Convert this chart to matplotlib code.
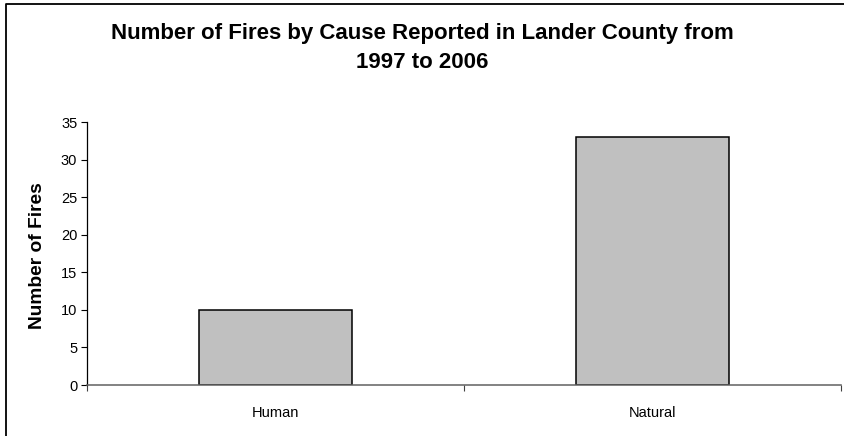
import matplotlib.pyplot as plt
from matplotlib.lines import Line2D

plt.rcParams['font.family'] = ['Liberation Sans', 'DejaVu Sans']

causes = ['Human', 'Natural']
fires = [10, 33]
yticks = [0, 5, 10, 15, 20, 25, 30, 35]

W, H = 844, 436
fig = plt.figure(figsize=(W / 100, H / 100), dpi=100)

# chart area border (only top and left visible in the crop)
fig.add_artist(Line2D([5.5 / W, 5.5 / W, 1.01], [0, 1 - 4.5 / H, 1 - 4.5 / H],
                      transform=fig.transFigure, color='black', lw=1.3))

ax = fig.add_axes([87 / W, (H - 385) / H, (841 - 87) / W, (385 - 122) / H])

x = range(len(causes))
ax.bar(x, fires, width=0.405, color='#c0c0c0', edgecolor='black', linewidth=1.1)

ax.set_xlim(-0.5, len(causes) - 0.5)
ax.set_ylim(0, 35)
ax.set_yticks(yticks)
ax.tick_params(axis='y', direction='out', length=4, width=0.8, labelsize=10.5, pad=3, color='black')

# ticks between categories, labels at category centres
ax.set_xticks([-0.5, 0.5, 1.5])
ax.set_xticklabels([])
ax.set_xticks(list(x), minor=True)
ax.set_xticklabels(causes, minor=True, fontsize=10.5)
ax.tick_params(axis='x', which='major', direction='out', length=4, width=0.8, color='#404040')
ax.tick_params(axis='x', which='minor', length=0, pad=15)

for s in ['top', 'right']:
    ax.spines[s].set_visible(False)
ax.spines['left'].set_color('black')
ax.spines['left'].set_linewidth(0.9)
ax.spines['bottom'].set_color('#606060')
ax.spines['bottom'].set_linewidth(1.1)

fig.text(38 / W, 1 - 256 / H, 'Number of Fires', rotation=90, ha='center', va='center',
         fontsize=13.8, fontweight='bold')

fig.text(0.5, 1 - 48 / H,
         'Number of Fires by Cause Reported in Lander County from\n1997 to 2006',
         ha='center', va='center', fontsize=16, fontweight='bold', linespacing=1.55)

fig.savefig('out.png', dpi=100)
